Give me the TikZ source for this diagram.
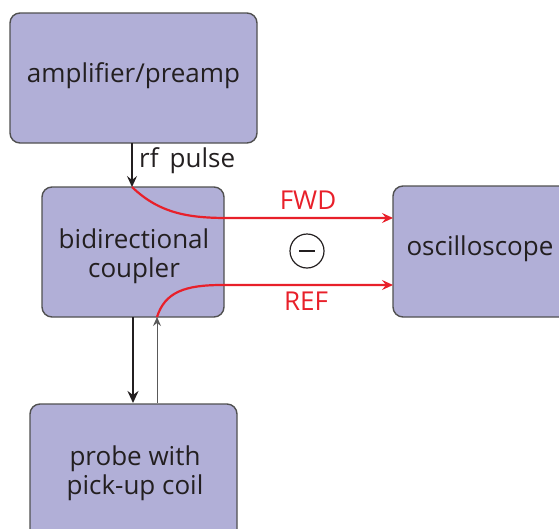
\documentclass[tikz,border=0pt]{standalone}
\usepackage{fontspec}
\setmainfont{Open Sans}
\usetikzlibrary{arrows.meta}
\definecolor{boxfill}{HTML}{B1AFD7}
\definecolor{boxline}{HTML}{505050}
\definecolor{sigred}{HTML}{E8202A}
\definecolor{ink}{HTML}{231F20}
\tikzset{
  blk/.style={draw=boxline, line width=1.4pt, fill=boxfill, rounded corners=10pt, inner sep=0pt},
  lbl/.style={font=\fontsize{26}{29}\selectfont, text=ink, align=center},
  redl/.style={draw=sigred, line width=2.2pt, -{Stealth[length=11pt,width=10pt,inset=4pt]}},
  redt/.style={font=\fontsize{26}{29}\selectfont, text=sigred}
}
\begin{document}
\begin{tikzpicture}[x=1pt,y=-1pt]
\useasboundingbox (0,0) rectangle (559,528);
\clip (0,0) rectangle (559,528);
\node[blk, minimum width=247pt, minimum height=130pt] (amp) at (133.5,78) {};
\node[lbl] at (133.5,76) {amplifier/preamp};
\node[blk, minimum width=182pt, minimum height=130pt] (coup) at (133,252) {};
\node[lbl] at (134,256) {bidirectional\\coupler};
\node[blk, minimum width=180pt, minimum height=131pt] (osc) at (483,251.5) {};
\node[lbl] at (480,249) {oscilloscope};
\node[blk, minimum width=207pt, minimum height=140pt] (probe) at (133.5,474) {};
\node[lbl] at (135,473) {probe with\\pick-up coil};
\coordinate (rfA) at (132,143);
\coordinate (rfB) at (132,187);
\draw[line width=2pt, ink, -{Stealth[length=11pt,width=10pt,inset=4pt]}] (rfA) -- (rfB);
\node[lbl, anchor=west, inner sep=0pt] (rf) at (139,161) {rf\ \,pulse};
\coordinate (dnA) at (133,317);
\coordinate (dnB) at (133,403);
\draw[line width=2.4pt, ink, -{Stealth[length=12pt,width=11pt,inset=4pt]}] (dnA) -- (dnB);
\coordinate (upA) at (157,403);
\coordinate (upB) at (157,317);
\draw[line width=1pt, black!65, -{Stealth[length=9pt,width=8pt,inset=3pt]}] (upA) -- (upB);
\coordinate (fwdE) at (393,218);
\coordinate (refE) at (393,285);
\draw[redl] (rfB) .. controls (160,214) and (190,218) .. (228,218) -- (fwdE);
\draw[redl] (upB) .. controls (165,292) and (185,285) .. (222,285) -- (refE);
\node[redt] (fwd) at (308,200) {FWD};
\node[redt] (ref) at (306,301) {REF};
\node[draw=ink, line width=1.2pt, circle, minimum size=34pt, inner sep=0pt] (minus) at (307,251) {};
\draw[line width=2.4pt, ink] ([xshift=-8pt]minus.center) -- ([xshift=8pt]minus.center);
\end{tikzpicture}
\end{document}
